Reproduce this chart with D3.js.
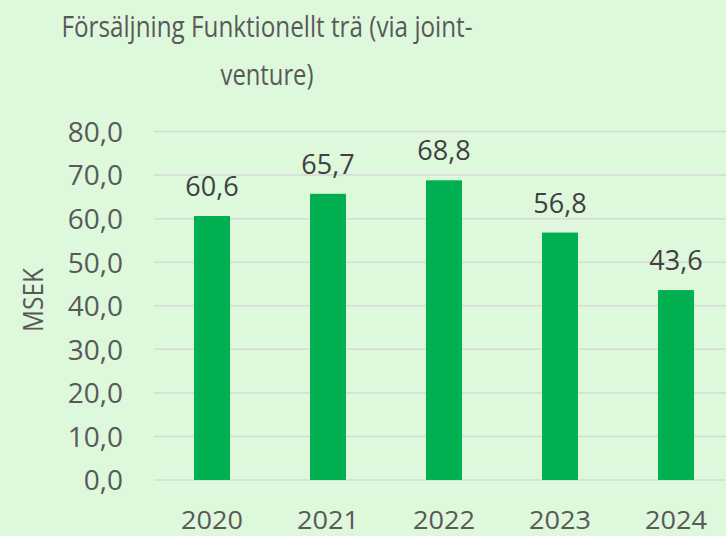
<!DOCTYPE html>
<html>
<head>
<meta charset="utf-8">
<script src="https://cdn.jsdelivr.net/npm/d3@7"></script>
<style>
  html, body { margin: 0; padding: 0; background: #ddf8db; }
  svg { display: block; font-family: "Open Sans", sans-serif; }
</style>
</head>
<body>
<svg id="chart"></svg>
<script>
// chart data
var years = ["2020", "2021", "2022", "2023", "2024"]
var sales = [60.6, 65.7, 68.8, 56.8, 43.6]
var yTicks = [0, 10, 20, 30, 40, 50, 60, 70, 80]
var titleLines = ["Försäljning Funktionellt trä (via joint-", "venture)"]
var yTitle = "MSEK"

var width = 726, height = 536
var margin = { top: 131.5, right: -8, bottom: 56, left: 154 }

var svg = d3.select("#chart").attr("width", width).attr("height", height)

svg.append("rect").attr("width", width).attr("height", height).attr("fill", "#ddf8db")

var x = d3.scaleBand()
    .domain(years)
    .range([margin.left, width - margin.right])
    .paddingInner(0.69)
    .paddingOuter(0.345)

var y = d3.scaleLinear()
    .domain([0, 80])
    .range([height - margin.bottom, margin.top])

var fmt = d => d3.format(".1f")(d).replace(".", ",")

// gridlines
svg.append("g")
    .selectAll("line")
    .data(yTicks)
    .join("line")
    .attr("x1", margin.left)
    .attr("x2", width)
    .attr("y1", d => y(d))
    .attr("y2", d => y(d))
    .attr("stroke", "#d9d9d9")
    .attr("stroke-width", 1.5)

// y axis labels
var yAxis = d3.axisLeft(y).tickValues(yTicks).tickSize(0).tickPadding(0).tickFormat(fmt)
var yg = svg.append("g").attr("transform", "translate(123,0)").call(yAxis)
yg.select(".domain").remove()
yg.selectAll("text")
    .attr("font-family", "Open Sans, sans-serif")
    .attr("font-size", 28)
    .attr("fill", "#595959")
    .attr("dy", "0.35em")

// x axis labels
var xAxis = d3.axisBottom(x).tickSize(0).tickPadding(0)
var xg = svg.append("g").attr("transform", "translate(0," + y(0) + ")").call(xAxis)
xg.select(".domain").remove()
xg.selectAll("text")
    .attr("font-family", "Open Sans, sans-serif")
    .attr("font-size", 26)
    .attr("fill", "#595959")
    .attr("dy", null)
    .attr("y", 49)
    .attr("textLength", 62)
    .attr("lengthAdjust", "spacingAndGlyphs")

// bars
svg.append("g")
    .selectAll("rect")
    .data(sales)
    .join("rect")
    .attr("x", (d, i) => x(years[i]))
    .attr("width", x.bandwidth())
    .attr("y", d => y(d))
    .attr("height", d => y(0) - y(d))
    .attr("fill", "#00b050")

// value labels
svg.append("g")
    .selectAll("text")
    .data(sales)
    .join("text")
    .attr("x", (d, i) => x(years[i]) + x.bandwidth() / 2)
    .attr("y", d => y(d) - 20)
    .attr("text-anchor", "middle")
    .attr("font-size", 27)
    .attr("fill", "#404040")
    .text(fmt)

// title
var titleWidths = [411, 93]
svg.append("g")
    .selectAll("text")
    .data(titleLines)
    .join("text")
    .attr("x", 267)
    .attr("y", (d, i) => 37 + i * 48)
    .attr("text-anchor", "middle")
    .attr("font-size", 30)
    .attr("fill", "#595959")
    .attr("textLength", (d, i) => titleWidths[i])
    .attr("lengthAdjust", "spacingAndGlyphs")
    .text(d => d)

// y axis title
svg.append("text")
    .attr("transform", "translate(43,300) rotate(-90)")
    .attr("text-anchor", "middle")
    .attr("font-size", 27)
    .attr("fill", "#595959")
    .attr("textLength", 64)
    .attr("lengthAdjust", "spacingAndGlyphs")
    .text(yTitle)
</script>
</body>
</html>
